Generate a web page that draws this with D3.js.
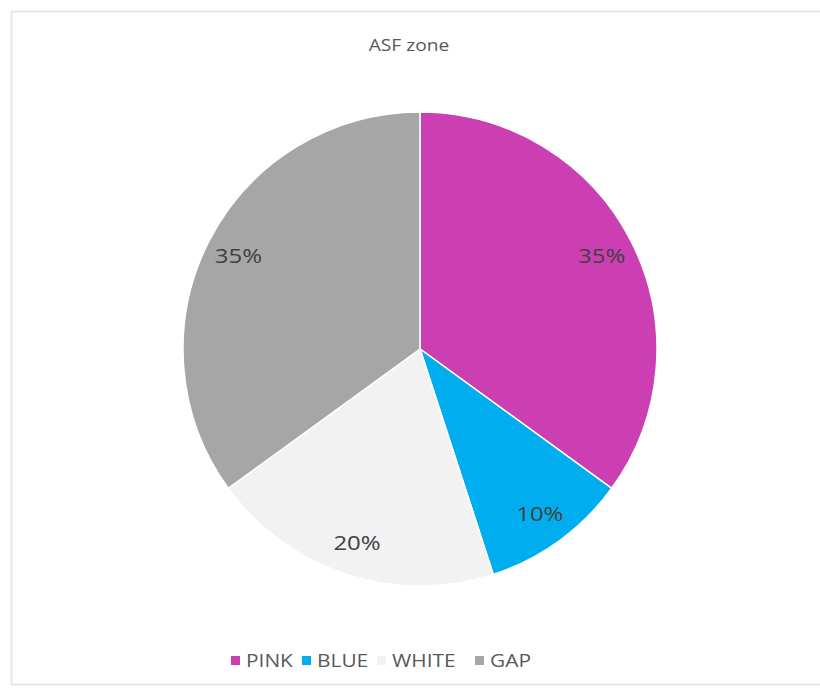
<!DOCTYPE html>
<html>
<head>
<meta charset="utf-8">
<script src="https://cdn.jsdelivr.net/npm/d3@7"></script>
<style>
  html, body { margin: 0; padding: 0; background: #fff; }
  svg { display: block; font-family: "Open Sans", "Liberation Sans", sans-serif; }
</style>
</head>
<body>
<svg id="chart" width="820" height="690"></svg>
<script>
// Share of each zone category
const categories = ["PINK", "BLUE", "WHITE", "GAP"];
const shares = [35, 10, 20, 35];
const colors = ["#CC3FB3", "#00AEEF", "#F2F2F2", "#A6A6A6"];
const title = "ASF zone";

const svg = d3.select("#chart");
const W = 820;
const stretch = 1.2; // wide lettering

// chart frame
svg.append("rect")
  .attr("x", 11.5).attr("y", 11.5)
  .attr("width", W + 10).attr("height", 673)
  .attr("fill", "#fff")
  .attr("stroke", "#E6E6E6").attr("stroke-width", 2);

svg.append("text")
  .attr("transform", `translate(409,51) scale(${stretch},1)`)
  .attr("text-anchor", "middle")
  .attr("font-size", 16)
  .attr("fill", "#595959")
  .text(title);

const cx = 420, cy = 349, r = 237;
const data = categories.map((c, i) => ({ cat: c, value: shares[i], color: colors[i] }));

const pie = d3.pie().value(d => d.value).sort(null);
const arcs = pie(data);
const arc = d3.arc().innerRadius(0).outerRadius(r);
const labelArc = d3.arc().innerRadius(r * 0.86).outerRadius(r * 0.86);

const g = svg.append("g").attr("transform", `translate(${cx},${cy})`);

g.selectAll("path.slice")
  .data(arcs)
  .join("path")
  .attr("class", "slice")
  .attr("d", arc)
  .attr("fill", d => d.data.color)
  .attr("stroke", "#fff")
  .attr("stroke-width", 1.5);

g.selectAll("text.lbl")
  .data(arcs)
  .join("text")
  .attr("class", "lbl")
  .attr("transform", d => `translate(${labelArc.centroid(d)}) scale(${stretch},1)`)
  .attr("text-anchor", "middle")
  .attr("dy", "0.35em")
  .attr("font-size", 20)
  .attr("fill", "#404040")
  .text(d => d.data.value + "%");

// legend
const legend = svg.append("g").attr("transform", "translate(0,661)");
const legendX = [231, 302, 377, 475];
const items = legend.selectAll("g")
  .data(data)
  .join("g")
  .attr("transform", (d, i) => `translate(${legendX[i]},0)`);
items.append("rect")
  .attr("x", 0).attr("y", -5)
  .attr("width", 9).attr("height", 9)
  .attr("fill", d => d.color);
items.append("text")
  .attr("transform", `translate(15,0) scale(1.13,1)`)
  .attr("dy", "0.35em")
  .attr("font-size", 18.5)
  .attr("fill", "#595959")
  .text(d => d.cat);
</script>
</body>
</html>
